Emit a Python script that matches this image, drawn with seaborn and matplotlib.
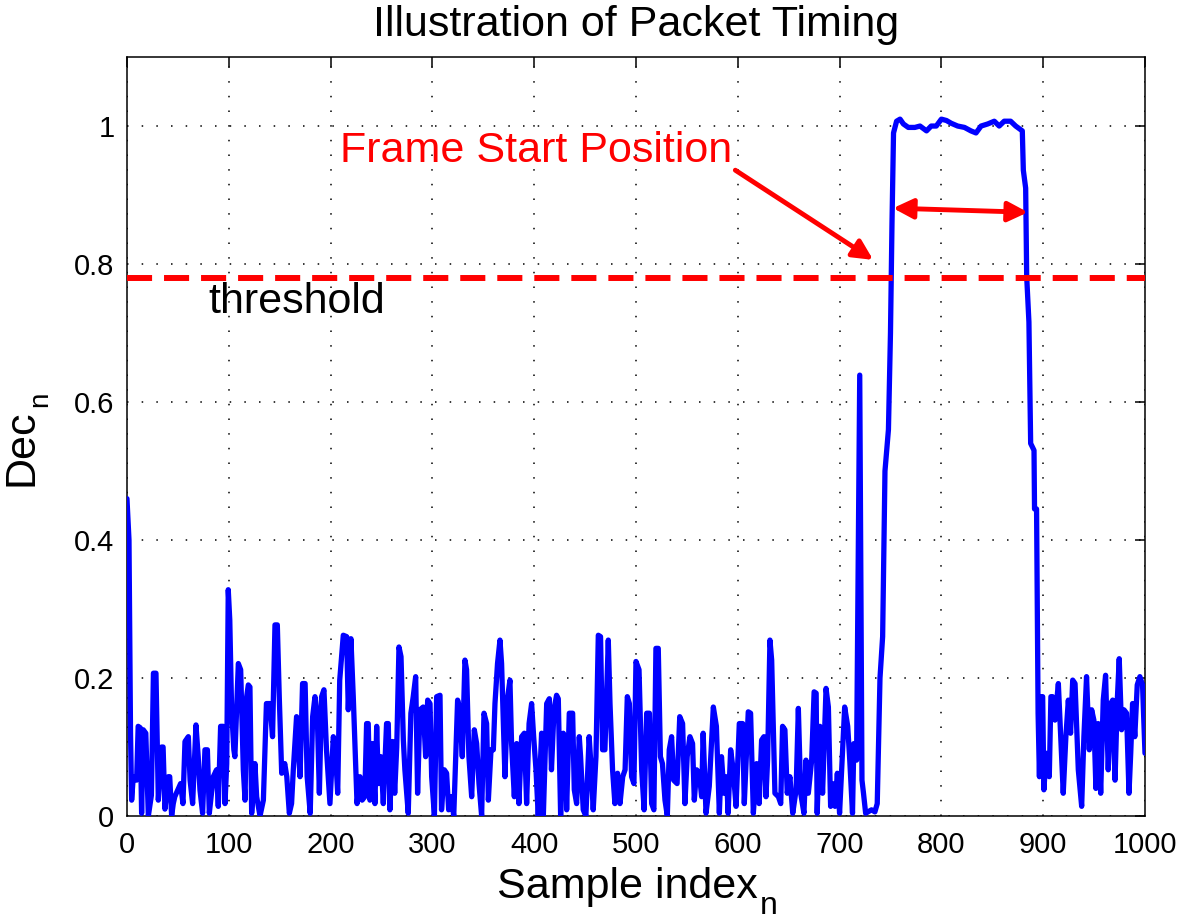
import matplotlib
matplotlib.use("Agg")
import matplotlib.pyplot as plt
import seaborn as sns
import pandas as pd

# values (sample index, Dec_n)
sample_idx = [
    0, 2, 3.5, 4.6, 6.2, 9.5, 11, 13, 14.4, 16, 18.5, 21, 24, 26, 28.5, 30.8, 34, 35.5, 37.3, 40.6,
    42, 43.9, 45.5, 47, 50, 52.7, 55, 57, 60.3, 62, 64.5, 67.8, 70, 71.7, 74.3, 76.6, 79, 80.9, 84.8, 88,
    89.7, 92, 94.6, 96.3, 98, 99.5, 101, 102.8, 105, 106, 109.4, 111.7, 114.3, 116, 117.6, 119.2, 120.8, 122.5, 125.7, 127.4,
    130.7, 134, 137, 140.4, 143, 145.4, 147.7, 149.6, 152, 155, 157, 159.5, 161.7, 163.4, 166.6, 170, 172.5, 175, 177, 180,
    182.4, 184.7, 187, 189, 191.2, 193.5, 196, 199.4, 202.7, 204.3, 207, 209, 212.5, 215.8, 217.4, 220, 222.3, 226, 228.9, 231,
    233.6, 235.4, 237, 238.7, 241, 243.6, 245.3, 247, 249.5, 251.8, 255, 256.7, 258.3, 261, 263, 265, 267.2, 269.2, 271.5, 273,
    276.3, 278.9, 281.2, 283.6, 285.5, 287.8, 291, 293.4, 295.4, 297.7, 299.3, 302, 304.2, 307.5, 309, 311.7, 314, 316, 318.6, 321,
    324.8, 327, 329.4, 332, 333.6, 335.9, 338.6, 341.2, 343.5, 345.8, 348.4, 350.7, 353.3, 355, 357.6, 359.9, 361.5, 364, 366.4, 368,
    371.3, 374, 376.2, 377.8, 380.5, 382.8, 385, 387.7, 390.3, 392.6, 395, 397.5, 399.5, 401.8, 404, 407.3, 409, 412.3, 414.9, 417,
    419.5, 422, 423.7, 426, 428.6, 430.3, 431.9, 434.5, 437.8, 439.4, 441.7, 444.3, 445.6, 448.2, 450.8, 454, 455.7, 458, 460.7, 463,
    465.2, 467.2, 469.5, 472.8, 474.5, 477, 479.3, 481.9, 484.3, 487, 489.3, 491.5, 493.5, 495.7, 498, 500, 503, 505.6, 508, 510.5,
    513.2, 515.4, 517.6, 519.6, 521.9, 524, 526, 528.5, 530.8, 532.7, 535, 537, 540.4, 543, 545.8, 548.1, 550.3, 553, 555.6, 557.3,
    559.6, 562.2, 564.5, 566, 568.8, 572, 576, 579, 581.9, 584, 586.5, 589, 590.5, 593, 595.5, 598.3, 601.5, 604.8, 606.4, 610.3,
    612.6, 615.3, 618.5, 621, 623.4, 625.7, 627.7, 629.3, 631.6, 633.3, 636.5, 639.9, 642.2, 644, 646.3, 648.6, 651.2, 654, 657.3, 659.5,
    661.8, 665, 667, 669.3, 672.6, 675, 677, 678, 680.7, 683.3, 686.7, 689, 691.2, 693.2, 695.5, 697.8, 700, 705, 708, 710,
    712.7, 714, 716.7, 719.8, 722, 723.5, 725.6, 731.4, 734.7, 737, 739.7, 742.3, 744.6, 748, 750, 751.5, 753, 756, 759.4, 762.7,
    767.5, 774, 779, 785.4, 790, 795, 800, 805, 809.7, 816, 822.7, 829, 834, 839, 845.5, 852, 856.8, 861.7, 868, 873,
    879.5, 880.5, 882.8, 883.8, 886, 887, 887.7, 891, 891.5, 893.5, 895, 896.3, 897.6, 899.5, 900.7, 903, 906, 907.6, 909.2, 911.6,
    914.9, 916.5, 919.7, 922.3, 924.7, 926.9, 929, 931.3, 934.5, 937.8, 940, 942.6, 945.3, 947.6, 949.8, 951.8, 954, 956.5, 959, 961.3,
    963.9, 966.3, 968.3, 970.6, 972.8, 974.7, 977, 979.3, 981.9, 984.3, 986, 987.8, 990, 992.4, 995, 997.6, 1000,
]
dec_values = [
    0.46, 0.40, 0.12, 0.023, 0.057, 0.052, 0.13, 0.128, 0.004, 0.125, 0.12, 0.0, 0.03, 0.207, 0.207, 0.023, 0.10, 0.10, 0.01, 0.057,
    0.057, 0.0, 0.018, 0.028, 0.038, 0.047, 0.018, 0.108, 0.115, 0.052, 0.018, 0.132, 0.086, 0.038, 0.004, 0.096, 0.096, 0.004, 0.057, 0.067,
    0.014, 0.13, 0.13, 0.018, 0.076, 0.328, 0.284, 0.154, 0.096, 0.086, 0.221, 0.212, 0.067, 0.023, 0.173, 0.19, 0.187, 0.004, 0.076, 0.028,
    0.0, 0.023, 0.163, 0.163, 0.115, 0.277, 0.277, 0.173, 0.062, 0.076, 0.057, 0.004, 0.018, 0.067, 0.144, 0.057, 0.192, 0.192, 0.057, 0.004,
    0.144, 0.173, 0.144, 0.033, 0.173, 0.183, 0.096, 0.018, 0.115, 0.105, 0.033, 0.197, 0.262, 0.26, 0.154, 0.257, 0.173, 0.018, 0.057, 0.023,
    0.028, 0.134, 0.134, 0.023, 0.105, 0.018, 0.13, 0.047, 0.086, 0.018, 0.134, 0.134, 0.009, 0.108, 0.033, 0.10, 0.245, 0.231, 0.11, 0.067,
    0.004, 0.149, 0.173, 0.202, 0.033, 0.154, 0.158, 0.086, 0.168, 0.163, 0.057, 0.0, 0.173, 0.175, 0.009, 0.067, 0.062, 0.009, 0.028, 0.0,
    0.168, 0.154, 0.086, 0.226, 0.212, 0.086, 0.028, 0.125, 0.105, 0.047, 0.0, 0.149, 0.134, 0.023, 0.096, 0.096, 0.163, 0.221, 0.255, 0.221,
    0.057, 0.173, 0.197, 0.105, 0.028, 0.105, 0.018, 0.115, 0.12, 0.018, 0.134, 0.163, 0.115, 0.067, 0.0, 0.12, 0.0, 0.163, 0.17, 0.067,
    0.154, 0.175, 0.17, 0.0, 0.12, 0.115, 0.009, 0.149, 0.149, 0.038, 0.018, 0.115, 0.086, 0.009, 0.0, 0.115, 0.076, 0.009, 0.086, 0.262,
    0.26, 0.096, 0.096, 0.255, 0.163, 0.067, 0.018, 0.062, 0.018, 0.057, 0.067, 0.173, 0.163, 0.057, 0.047, 0.224, 0.212, 0.067, 0.009, 0.149,
    0.149, 0.018, 0.009, 0.243, 0.243, 0.086, 0.076, 0.023, 0.0, 0.096, 0.115, 0.052, 0.047, 0.144, 0.134, 0.018, 0.086, 0.115, 0.105, 0.023,
    0.067, 0.062, 0.028, 0.12, 0.004, 0.043, 0.158, 0.13, 0.004, 0.086, 0.033, 0.057, 0.004, 0.096, 0.067, 0.014, 0.134, 0.134, 0.018, 0.151,
    0.149, 0.004, 0.076, 0.018, 0.11, 0.115, 0.028, 0.081, 0.255, 0.226, 0.033, 0.028, 0.018, 0.13, 0.125, 0.033, 0.057, 0.004, 0.038, 0.156,
    0.033, 0.004, 0.081, 0.033, 0.081, 0.18, 0.178, 0.004, 0.13, 0.033, 0.185, 0.158, 0.014, 0.047, 0.014, 0.062, 0.004, 0.158, 0.13, 0.081,
    0.004, 0.105, 0.081, 0.639, 0.052, 0.033, 0.004, 0.009, 0.006, 0.018, 0.2, 0.26, 0.5, 0.56, 0.7, 0.86, 0.99, 1.007, 1.01, 1.003,
    0.998, 0.998, 1.0, 0.993, 1.0, 1.0, 1.01, 1.008, 1.004, 1.0, 0.998, 0.993, 0.99, 1.0, 1.003, 1.007, 1.0, 1.007, 1.007, 1.0,
    0.993, 0.936, 0.91, 0.782, 0.716, 0.609, 0.54, 0.53, 0.445, 0.445, 0.149, 0.057, 0.173, 0.173, 0.038, 0.091, 0.057, 0.173, 0.173, 0.139,
    0.192, 0.139, 0.033, 0.115, 0.168, 0.12, 0.197, 0.192, 0.067, 0.014, 0.115, 0.202, 0.096, 0.154, 0.139, 0.04, 0.134, 0.033, 0.168, 0.204,
    0.067, 0.163, 0.168, 0.052, 0.168, 0.228, 0.125, 0.154, 0.149, 0.033, 0.091, 0.163, 0.115, 0.19, 0.202, 0.19, 0.091,
]

threshold = 0.78
x_ticks = list(range(0, 1001, 100))
y_ticks = [0, 0.2, 0.4, 0.6, 0.8, 1]
y_tick_labels = ["0", "0.2", "0.4", "0.6", "0.8", "1"]

df = pd.DataFrame({"n": sample_idx, "dec": dec_values})

sns.set_style("white")
plt.rcParams["font.family"] = ["Liberation Sans", "DejaVu Sans"]
plt.rcParams["text.color"] = "black"
plt.rcParams["axes.labelcolor"] = "black"

W, H = 1181, 923
fig = plt.figure(figsize=(W / 100, H / 100), dpi=100)
ax = fig.add_axes([0.1075, 0.1159, 0.862, 0.8223])

sns.lineplot(data=df, x="n", y="dec", color="#0000ff", linewidth=3.8, ax=ax,
             estimator=None, sort=False, zorder=3)

# threshold line
ax.axhline(threshold, color="#ff0000", linewidth=4.3, linestyle=(0, (4.2, 2.0)), zorder=4)

ax.set_xlim(0, 1000)
ax.set_ylim(0, 1.1)
ax.set_xticks(x_ticks)
ax.set_yticks(y_ticks)
ax.set_yticklabels(y_tick_labels)
ax.grid(True, color="black", linewidth=1.1, linestyle=(0, (1, 8.6)))
ax.tick_params(direction="in", length=7, width=1.1, top=True, right=True,
               labelsize=21, colors="black", pad=9)
ax.tick_params(axis="x", pad=11)
for sp in ax.spines.values():
    sp.set_color("black")
    sp.set_linewidth(1.1)

ax.set_title("Illustration of Packet Timing", fontsize=31, pad=15, color="black")
ax.set_xlabel("")
ax.set_ylabel("")

ax.text(209, 0.948, "Frame Start Position", color="#ff0000", fontsize=31,
        ha="left", va="baseline", zorder=5)
ax.text(79.6, 0.729, "threshold", color="black", fontsize=31,
        ha="left", va="baseline", zorder=5)

ax.annotate("", xy=(733, 0.806), xytext=(597.6, 0.936),
            arrowprops=dict(arrowstyle="-|>", color="#ff0000", lw=3.5,
                            mutation_scale=30, shrinkA=0, shrinkB=0), zorder=5)
ax.annotate("", xy=(885, 0.875), xytext=(752.5, 0.881),
            arrowprops=dict(arrowstyle="<|-|>", color="#ff0000", lw=3.5,
                            mutation_scale=30, shrinkA=0, shrinkB=0), zorder=5)

# axis labels with MATLAB-like large, dropped subscripts
xl = fig.text(497 / W, 1 - 898 / H, "Sample index", fontsize=31, ha="left", va="baseline")
yl = fig.text(33 / W, 1 - 486 / H, "Dec", fontsize=31, rotation=90, rotation_mode="anchor",
              ha="left", va="baseline")
fig.canvas.draw()
r = fig.canvas.get_renderer()
bx = xl.get_window_extent(r)
by = yl.get_window_extent(r)
fig.text((bx.x1 + 2) / W, 1 - 914 / H, "n", fontsize=23, ha="left", va="baseline")
fig.text(47 / W, (by.y1 + 2) / H, "n", fontsize=20, rotation=90, rotation_mode="anchor",
         ha="left", va="baseline")

fig.savefig("out.png", dpi=100, facecolor="white")
